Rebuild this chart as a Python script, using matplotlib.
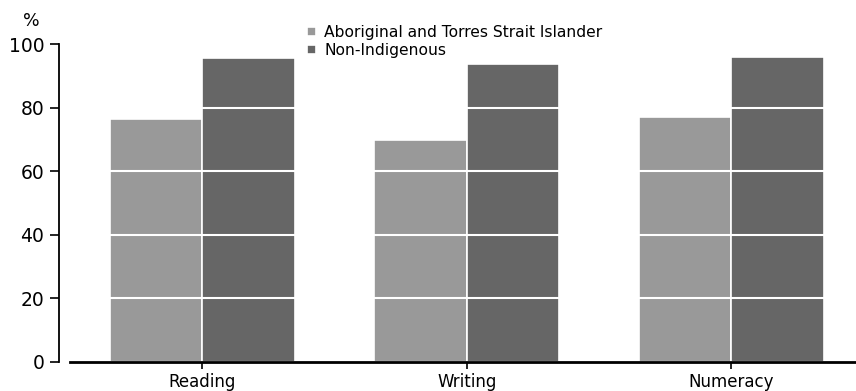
import numpy as np
import matplotlib
matplotlib.use("Agg")
import matplotlib.pyplot as plt

plt.rcParams["font.family"] = ["DejaVu Sans"]

# data
categories = ["Reading", "Writing", "Numeracy"]
series_names = ["Aboriginal and Torres Strait Islander", "Non-Indigenous"]
aboriginal = [76.4, 69.8, 77.0]
non_indigenous = [95.6, 93.7, 95.9]
yticks = [0, 20, 40, 60, 80, 100]

LIGHT = "#999999"
DARK = "#666666"

fig = plt.figure(figsize=(8.56, 3.91), dpi=100)
ax = fig.add_axes([0.0818, 0.0742, 0.918, 0.813])

x = np.arange(len(categories))
w = 0.35
ax.bar(x - w / 2, aboriginal, width=w, color=LIGHT, edgecolor="white",
       linewidth=1.2, label=series_names[0], zorder=2)
ax.bar(x + w / 2, non_indigenous, width=w, color=DARK, edgecolor="white",
       linewidth=1.2, label=series_names[1], zorder=2)

ax.set_xlim(-0.5, 2.47)
ax.set_ylim(0, 100)
ax.set_yticks(yticks)
ax.set_xticks(x)
ax.set_xticklabels(categories)

# white gridlines drawn over the bars
ax.yaxis.grid(True, color="white", linewidth=1.5)
ax.set_axisbelow(False)
for gl in ax.get_ygridlines():
    gl.set_zorder(3)

for s in ("top", "right"):
    ax.spines[s].set_visible(False)
ax.spines["left"].set_position(("outward", 8))
ax.spines["left"].set_linewidth(1.3)
ax.spines["bottom"].set_linewidth(2)
ax.spines["bottom"].set_zorder(4)
ax.tick_params(axis="y", direction="out", length=6.5, width=1.2, labelsize=13.5, pad=4)
ax.tick_params(axis="x", direction="out", length=5, width=1.2, labelsize=12, pad=3)

fig.text(31 / 856, 1 - 21 / 391, "%", fontsize=12.5, ha="center", va="center")

ax.legend(loc="upper left", bbox_to_anchor=(307 / 856, 1 - 25 / 391),
          bbox_transform=fig.transFigure, frameon=False, fontsize=11.2,
          handlelength=0.55, handleheight=0.55, handletextpad=0.55, labelspacing=0.2,
          borderaxespad=0, borderpad=0)

fig.savefig("out.png", dpi=100)
